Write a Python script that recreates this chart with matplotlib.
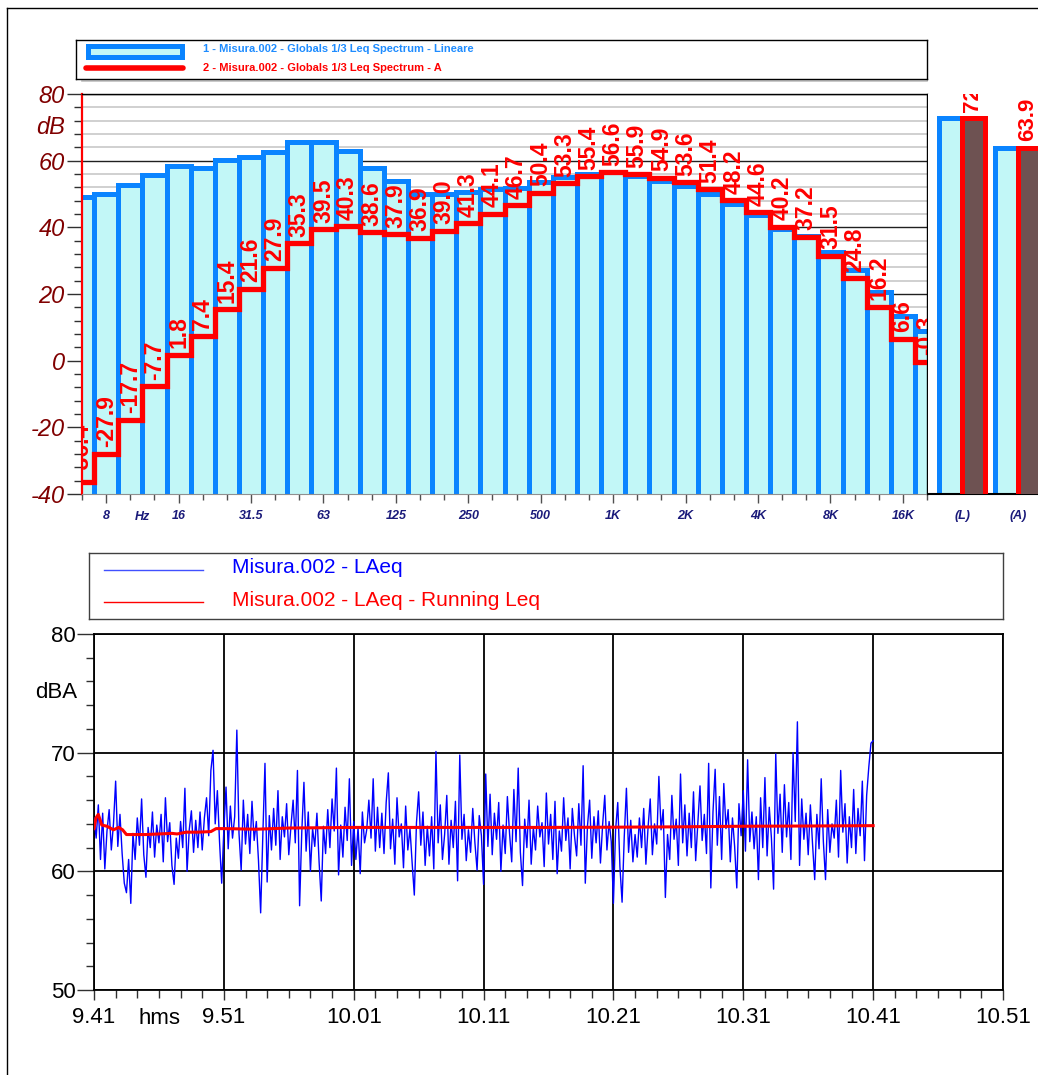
import matplotlib
matplotlib.use("Agg")
import matplotlib.pyplot as plt
import numpy as np
from matplotlib.patches import Rectangle
from matplotlib.lines import Line2D
from matplotlib.ticker import MultipleLocator, FixedLocator
import matplotlib.transforms as mtrans

plt.rcParams["font.family"] = ["Liberation Sans", "DejaVu Sans"]
plt.rcParams["axes.unicode_minus"] = False

# --- 1/3 octave spectrum (6.3 Hz .. 20 kHz) ---
BANDS = ["6.3", "8", "10", "12.5", "16", "20", "25", "31.5", "40", "50", "63",
         "80", "100", "125", "160", "200", "250", "315", "400", "500", "630",
         "800", "1K", "1.25K", "1.6K", "2K", "2.5K", "3.15K", "4K", "5K",
         "6.3K", "8K", "10K", "12.5K", "16K", "20K"]
LIN = [49.0, 49.9, 52.7, 55.7, 58.5, 57.9, 60.1, 61.0, 62.5, 65.5, 65.7,
       62.8, 57.7, 54.0, 50.0, 50.1, 50.6, 51.4, 51.8, 53.6, 55.2,
       56.0, 56.7, 55.4, 53.9, 52.3, 50.1, 47.0, 43.6, 39.5,
       37.3, 32.6, 27.3, 20.5, 13.3, 8.8]
AW = [-36.4, -27.9, -17.7, -7.7, 1.8, 7.4, 15.4, 21.6, 27.9, 35.3, 39.5,
      40.3, 38.6, 37.9, 36.9, 39.0, 41.3, 44.1, 46.7, 50.4, 53.3,
      55.4, 56.6, 55.9, 54.9, 53.6, 51.4, 48.2, 44.6, 40.2,
      37.2, 31.5, 24.8, 16.2, 6.6, -0.3]
XLABELS = ["8", "16", "31.5", "63", "125", "250", "500", "1K", "2K", "4K", "8K", "16K"]

# overall levels
TOT_CATS = ["(L)", "(A)"]
TOT_LIN = [72.8, 63.9]
TOT_AW = [72.8, 63.9]

# --- LAeq time history, one value every 10 s from 9:41 ---
LAEQ = [
    64.5, 62.8, 65.6, 61.0, 64.9, 60.2, 63.4, 65.2, 61.8, 64.0, 67.6, 62.1,
    64.8, 61.5, 59.0, 58.2, 61.0, 57.3, 63.2, 61.0, 64.5, 62.2, 66.1, 61.4,
    59.5, 63.7, 62.0, 65.0, 61.2, 63.9, 62.4, 64.8, 60.8, 66.2, 62.5, 64.1,
    60.5, 58.9, 62.8, 61.1, 64.2, 62.0, 67.0, 60.0, 63.5, 65.1, 61.6, 64.3,
    62.0, 65.0, 61.8, 64.5, 66.2, 63.0, 68.5, 70.2, 64.0, 66.8, 62.5, 59.0,
    63.5, 67.1, 61.9, 65.5, 62.8, 64.6, 71.9, 63.2, 60.1, 66.0, 62.3, 64.8,
    61.5, 65.9, 62.6, 64.2, 60.9, 56.5, 63.0, 69.1, 59.1, 64.7, 61.8, 65.3,
    62.2, 66.8, 61.0, 64.6, 62.9, 65.7, 61.4, 63.8, 66.0, 62.4, 68.5, 57.1,
    63.3, 67.5, 61.7, 65.0, 60.0, 63.6, 62.1, 64.9, 60.8, 57.5, 63.8, 61.5,
    65.2, 62.0, 66.1, 63.4, 68.7, 59.7, 63.9, 61.2, 65.4, 62.6, 67.8, 60.5,
    64.2, 61.0, 63.7, 59.8, 65.0, 62.4, 63.5, 66.0, 62.8, 67.8, 61.7, 65.4,
    62.0, 64.9, 61.5, 65.8, 68.3, 61.9, 64.4, 60.6, 66.2, 62.9, 64.0, 60.3,
    65.5, 61.8, 63.6, 60.7, 58.0, 64.1, 66.7, 62.2, 65.0, 60.5, 63.8, 61.3,
    64.6, 60.2, 70.1, 62.4, 65.6, 61.0, 63.1, 66.4, 60.6, 64.3, 62.0, 65.9,
    59.2, 69.8, 62.7, 64.8, 60.9, 63.5, 61.6, 65.3, 62.4, 60.1, 64.7, 63.0,
    58.9, 68.2, 62.1, 66.5, 61.4, 64.9, 62.7, 65.8, 60.0, 63.9, 61.5, 66.3,
    63.2, 60.8, 66.9, 62.5, 68.7, 61.6, 58.8, 64.4, 62.0, 66.0, 60.6, 63.7,
    61.8, 65.5, 62.9, 64.1, 60.4, 66.6, 62.3, 64.8, 61.0, 65.9, 59.8, 63.4,
    61.7, 66.2, 62.6, 64.5, 60.2, 65.3, 63.0, 61.3, 65.7, 62.2, 68.9, 59.0,
    63.8, 66.0, 61.1, 64.6, 62.4, 65.1, 60.7, 63.9, 66.4, 61.8, 64.2, 62.5,
    57.3, 63.5, 65.8, 60.4, 57.4, 62.9, 67.0, 61.6, 64.3, 60.8, 63.1, 61.2,
    64.5, 62.0, 65.3, 60.6, 63.7, 66.1, 61.4, 64.0, 62.3, 68.0, 63.5, 65.2,
    57.8, 63.1, 61.0, 66.4, 62.7, 64.4, 60.5, 68.2, 62.4, 65.6, 61.3, 64.9,
    62.0, 66.7, 60.9, 64.1, 67.2, 62.6, 64.8, 61.5, 69.1, 58.6, 65.0, 68.6,
    62.2, 66.3, 61.0, 67.4, 63.6, 65.2, 60.8, 64.5, 62.1, 58.6, 65.7, 63.0,
    66.8, 61.7, 69.4, 62.5, 65.0, 61.9, 64.6, 59.3, 66.2, 62.0, 67.9, 61.3,
    65.4, 62.8, 58.5, 69.9, 63.2, 66.5, 61.6, 67.3, 62.9, 65.8, 61.0, 70.0,
    64.2, 72.6, 60.5, 66.1, 62.7, 64.9, 61.4, 65.6, 62.3, 59.3, 64.8, 61.9,
    67.8, 62.5, 59.3, 65.2, 61.6, 64.0, 62.8, 66.0, 61.2, 68.5, 63.3, 65.7,
    60.7, 64.6, 62.0, 66.9, 61.5, 65.3, 63.0, 67.6, 60.9, 66.4, 68.8, 70.8,
    71.0,
]
# running Leq, read at (minutes after 9:41, dBA)
RUN_T = [0, 0.15, 0.33, 0.6, 1.0, 1.5, 1.9, 2.2, 2.5, 3.0, 4.0, 5.0, 6.0, 6.4,
         7.1, 8.0, 9.0, 9.4, 10, 12.5, 15, 20, 25, 30, 35, 40, 45, 50, 55, 60]
RUN_V = [63.6, 64.5, 64.8, 63.9, 63.8, 63.5, 63.7, 63.5, 63.1, 63.1, 63.1,
         63.15, 63.2, 63.15, 63.3, 63.3, 63.35, 63.6, 63.6, 63.55, 63.65,
         63.7, 63.7, 63.7, 63.7, 63.72, 63.75, 63.8, 63.82, 63.85]
TIME_TICKS = [0, 10, 20, 30, 40, 50, 60, 70]
TIME_LABELS = ["9.41", "9.51", "10.01", "10.11", "10.21", "10.31", "10.41", "10.51"]

W, H = 1038, 1075
BLUE = "#0a84ff"
FILL = "#c2f7f7"
DARKRED = "#800000"
NAVY = "#1a1a7a"


def fx(px):
    return px / W


def fy(py):
    return 1 - py / H


fig = plt.figure(figsize=(W / 100, H / 100), dpi=100)
fig.patch.set_facecolor("white")

# page frame
fig.add_artist(Line2D([fx(7), fx(7)], [0, fy(8)], color="black", lw=1))
fig.add_artist(Line2D([fx(7), 1], [fy(8), fy(8)], color="black", lw=1))

# ---------------- spectrum ----------------
ax = fig.add_axes([fx(82), fy(494), fx(927 - 82), (494 - 94) / H])
x = np.arange(len(BANDS))
ax.bar(x, np.array(LIN) + 42, bottom=-42, width=1.0, color=FILL,
       edgecolor=BLUE, linewidth=3.6, zorder=2)
ax.step(x, AW, where="mid", color="red", lw=3.8, zorder=3,
        solid_joinstyle="miter")
for xi, v in zip(x, AW):
    ax.text(xi, v + 1.9, f"{v:.1f}", rotation=90, ha="center", va="bottom",
            color="red", fontsize=16.5, fontweight="bold", clip_on=True, zorder=4)
ax.set_xlim(0, len(BANDS) - 1)
ax.set_ylim(-40, 80)
ax.yaxis.set_major_locator(MultipleLocator(20))
ax.yaxis.set_minor_locator(MultipleLocator(4))
ax.grid(which="minor", axis="y", color="#c8c8c8", lw=1.2, zorder=0)
ax.grid(which="major", axis="y", color="#202020", lw=1.0, zorder=0)
ax.axhline(84, color="#c0c0c0", lw=1.2, clip_on=False, zorder=0)
ax.set_axisbelow(True)
major_idx = [BANDS.index(b) for b in XLABELS]
ax.xaxis.set_major_locator(FixedLocator(major_idx))
ax.xaxis.set_minor_locator(FixedLocator([i for i in x if i not in major_idx]))
ax.set_xticklabels(XLABELS, fontsize=9, fontweight="bold", style="italic", color=NAVY)
ax.tick_params(axis="x", which="major", length=6.5, width=1, color="#505050", pad=5)
ax.tick_params(axis="x", which="minor", length=4, width=1, color="#505050")
ax.tick_params(axis="y", which="major", length=11, width=1, color="#303030", pad=1.5,
               labelsize=17, labelcolor=DARKRED)
ax.tick_params(axis="y", which="minor", length=6, width=1, color="#303030")
for lab in ax.get_yticklabels():
    lab.set_style("italic")
ax.spines["left"].set_color("red")
ax.spines["left"].set_linewidth(1.6)
ax.spines["bottom"].set_color("#909090")
for s in ("top", "right"):
    ax.spines[s].set_color("black")
    ax.spines[s].set_linewidth(1.0)
ax.text(2.5, -0.057, "Hz", transform=mtrans.blended_transform_factory(ax.transData, ax.transAxes),
        ha="center", va="center", fontsize=9, fontweight="bold", style="italic", color=NAVY)
fig.text(fx(51), fy(128), "dB", ha="center", va="center", fontsize=17,
         style="italic", color=DARKRED)

# overall levels panel
axt = fig.add_axes([fx(928), fy(494), fx(1038 - 928), (494 - 94) / H])
xt = np.arange(len(TOT_CATS))
axt.bar(xt - 0.21, np.array(TOT_LIN) + 42, bottom=-42, width=0.41, color=FILL,
        edgecolor=BLUE, linewidth=3.6, zorder=2)
axt.bar(xt + 0.21, np.array(TOT_AW) + 42, bottom=-42, width=0.41, color="#6e5252",
        edgecolor="red", linewidth=3.6, zorder=3)
for xi, v in zip(xt, TOT_AW):
    axt.text(xi + 0.18, v + 1.9, f"{v:.1f}", rotation=90, ha="center", va="bottom",
             color="red", fontsize=16, fontweight="bold", clip_on=True, zorder=4)
axt.set_xlim(-34 / 56, 76 / 56)
axt.set_ylim(-40, 80)
axt.set_xticks(xt)
axt.set_xticklabels(TOT_CATS, fontsize=9, fontweight="bold", style="italic", color=NAVY)
axt.tick_params(axis="x", length=0, pad=11.5)
axt.set_yticks([])
for s in ("top", "right", "left"):
    axt.spines[s].set_visible(False)
axt.spines["bottom"].set_linewidth(1.5)

# spectrum legend
lg = fig.add_axes([fx(76), fy(79), fx(927 - 76), 39 / H])
lg.set_xlim(0, 851)
lg.set_ylim(39, 0)
lg.set_xticks([])
lg.set_yticks([])
for s in lg.spines.values():
    s.set_linewidth(1.0)
lg.add_patch(Rectangle((12, 5.5), 94, 11, facecolor=FILL, edgecolor=BLUE, lw=3.6))
lg.plot([10, 107], [28, 28], color="red", lw=4, solid_capstyle="round")
lg.text(127, 8.5, "1 - Misura.002 - Globals 1/3 Leq Spectrum - Lineare", color="#1e8cff",
        fontsize=8, fontweight="bold", va="center")
lg.text(127, 28, "2 - Misura.002 - Globals 1/3 Leq Spectrum - A", color="red",
        fontsize=8, fontweight="bold", va="center")

# ---------------- time history ----------------
bx = fig.add_axes([fx(94), fy(990), fx(1003 - 94), (990 - 634) / H])
t = np.arange(len(LAEQ)) * 10 / 60
bx.plot(t, LAEQ, color="#0000ff", lw=1.0, zorder=3)
bx.plot(RUN_T, RUN_V, color="red", lw=2.2, zorder=4)
bx.set_xlim(0, 70)
bx.set_ylim(50, 80)
bx.xaxis.set_major_locator(FixedLocator(TIME_TICKS))
bx.xaxis.set_minor_locator(MultipleLocator(10 / 6))
bx.yaxis.set_major_locator(MultipleLocator(10))
bx.yaxis.set_minor_locator(MultipleLocator(2))
bx.set_xticklabels(TIME_LABELS)
bx.grid(which="major", color="black", lw=1.3, zorder=1)
bx.tick_params(axis="both", which="major", labelsize=16, width=1, color="#303030")
bx.tick_params(axis="x", which="major", length=7, pad=5)
bx.tick_params(axis="x", which="minor", length=6, width=1, color="#303030")
bx.tick_params(axis="y", which="major", length=12, pad=1)
bx.tick_params(axis="y", which="minor", length=6, width=1, color="#303030")
for s in bx.spines.values():
    s.set_linewidth(1.3)
fig.text(fx(160), fy(1018), "hms", ha="center", va="center", fontsize=16)
fig.text(fx(56), fy(693), "dBA", ha="center", va="center", fontsize=16)

# time history legend
lb = fig.add_axes([fx(89), fy(619), fx(1003 - 89), 66 / H])
lb.set_xlim(0, 914)
lb.set_ylim(66, 0)
lb.set_xticks([])
lb.set_yticks([])
for s in lb.spines.values():
    s.set_linewidth(1.0)
    s.set_color("#404040")
lb.plot([15, 114], [17, 17], color="#4050ff", lw=1.0)
lb.plot([15, 114], [49, 49], color="red", lw=1.0)
lb.text(143, 15, "Misura.002 - LAeq", color="#0000ff", fontsize=15, va="center")
lb.text(143, 48, "Misura.002 - LAeq - Running Leq", color="red", fontsize=15, va="center")

fig.savefig("out.png", dpi=100, facecolor="white")
